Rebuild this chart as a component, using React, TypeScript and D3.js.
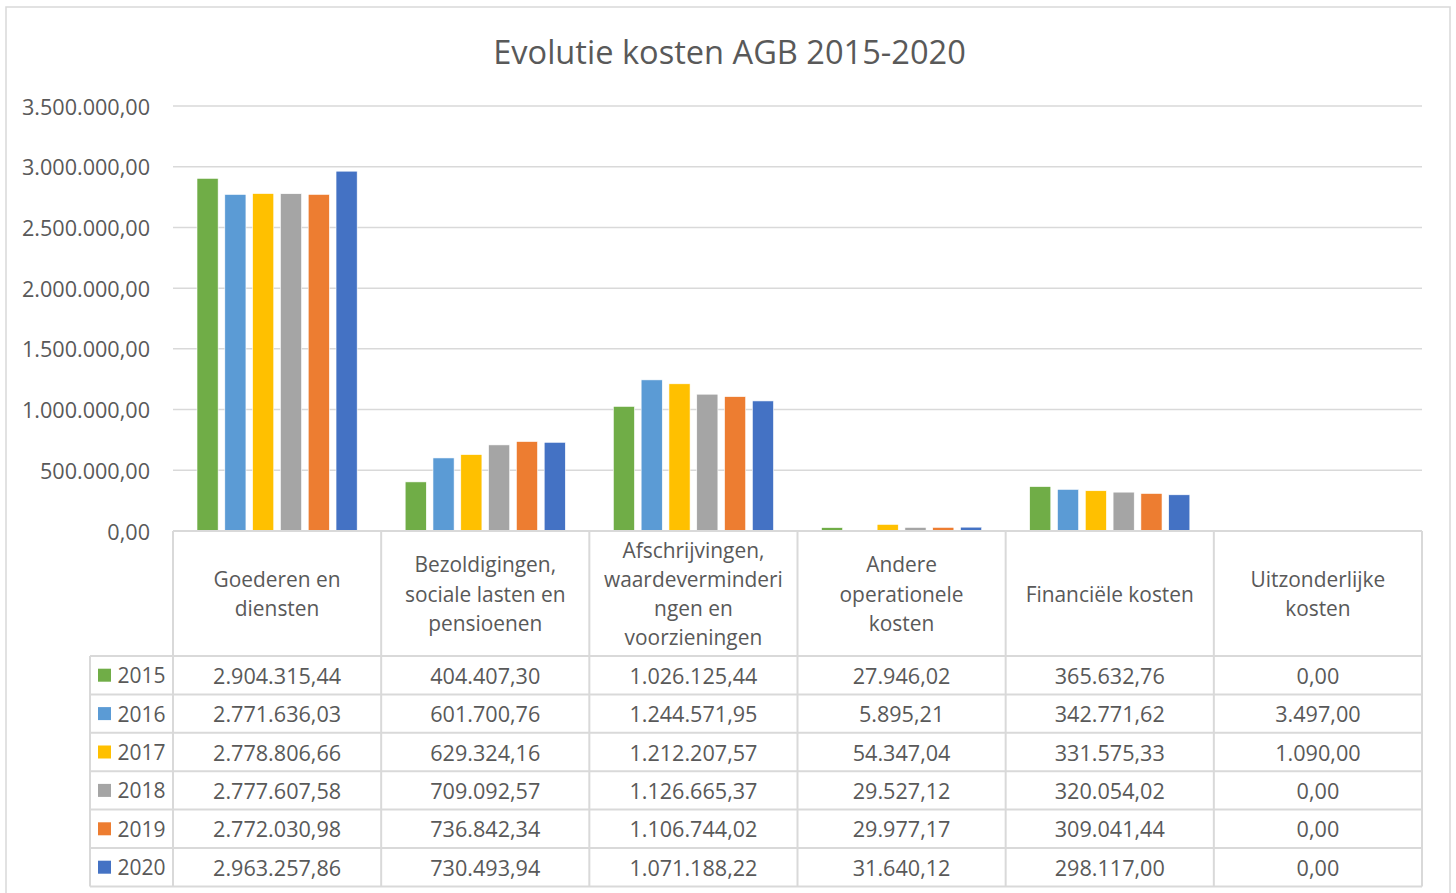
import React from 'react';
import * as d3 from 'd3';

const title = 'Evolutie kosten AGB 2015-2020';
const years = ['2015', '2016', '2017', '2018', '2019', '2020'];
const yearColors = ['#70AD47', '#5B9BD5', '#FFC000', '#A5A5A5', '#ED7D31', '#4472C4'];
const categories: string[][] = [
  ['Goederen en', 'diensten'],
  ['Bezoldigingen,', 'sociale lasten en', 'pensioenen'],
  ['Afschrijvingen,', 'waardeverminderi', 'ngen en', 'voorzieningen'],
  ['Andere', 'operationele', 'kosten'],
  ['Financiële kosten'],
  ['Uitzonderlijke', 'kosten'],
];
const v2015 = [2904315.44, 404407.3, 1026125.44, 27946.02, 365632.76, 0];
const v2016 = [2771636.03, 601700.76, 1244571.95, 5895.21, 342771.62, 3497.0];
const v2017 = [2778806.66, 629324.16, 1212207.57, 54347.04, 331575.33, 1090.0];
const v2018 = [2777607.58, 709092.57, 1126665.37, 29527.12, 320054.02, 0];
const v2019 = [2772030.98, 736842.34, 1106744.02, 29977.17, 309041.44, 0];
const v2020 = [2963257.86, 730493.94, 1071188.22, 31640.12, 298117.0, 0];
const series = [v2015, v2016, v2017, v2018, v2019, v2020];
const yMax = 3500000;
const yStep = 500000;

const W = 1456;
const H = 893;
const FONT = '"Open Sans", sans-serif';
const TXT = '#595959';
const GRID = '#d9d9d9';

const locale = d3.formatLocale({ decimal: ',', thousands: '.', grouping: [3], currency: ['', ''] });
const fmt = locale.format(',.2f');

export default function App() {
  const plotLeft = 173;
  const plotRight = 1422;
  const y = d3.scaleLinear().domain([0, yMax]).range([531, 106]);
  const x = d3.scaleBand<number>().domain(categories.map((_, i) => i)).range([plotLeft, plotRight]).padding(0);
  const cw = x.bandwidth();
  const xi = d3.scaleBand<number>().domain(years.map((_, i) => i)).range([24, cw - 24]).paddingInner(0.24).paddingOuter(0);
  const ticks = d3.range(0, yMax + 1, yStep);

  const headerTop = 531;
  const headerBottom = 656;
  const rowH = 38.4;
  const legendLeft = 90;
  const tableBottom = headerBottom + rowH * years.length;
  const lineH = 29.3;
  const headerMid = (headerTop + headerBottom) / 2;
  const numSize = 21.6;
  const hdrSize = 20.9;

  return (
    <svg width={W} height={H} style={{ position: 'absolute', left: 0, top: 0, background: '#fff' }} fontFamily={FONT}>
      <rect x={0} y={0} width={W} height={H} fill="#fff" />
      <rect x={6} y={7} width={1444} height={H + 10} fill="#fff" stroke={GRID} strokeWidth={1.5} />
      <text x={729.5} y={51} textAnchor="middle" dominantBaseline="central" fontSize={32.6} fill={TXT}>{title}</text>

      {ticks.map((t) => (
        <g key={t}>
          <line x1={plotLeft} x2={plotRight} y1={y(t)} y2={y(t)} stroke={GRID} strokeWidth={1.5} />
          <text x={150} y={y(t)} textAnchor="end" dominantBaseline="central" fontSize={numSize} fill={TXT}>{fmt(t)}</text>
        </g>
      ))}

      {categories.map((_, ci) => (
        <g key={ci} transform={`translate(${x(ci)},0)`}>
          {series.map((vals, si) => (
            vals[ci] > 0 ? (
              <rect key={si} x={xi(si)} y={y(vals[ci])} width={xi.bandwidth()} height={y(0) - y(vals[ci])}
                fill={yearColors[si]} stroke="#fff" strokeWidth={0.6} />
            ) : null
          ))}
        </g>
      ))}

      {/* table lines */}
      <line x1={plotLeft} x2={plotRight} y1={headerTop} y2={headerTop} stroke={GRID} strokeWidth={2} />
      {d3.range(categories.length + 1).map((i) => {
        const xx = plotLeft + i * cw;
        return <line key={'v' + i} x1={xx} x2={xx} y1={headerTop} y2={tableBottom} stroke={GRID} strokeWidth={2} />;
      })}
      <line x1={legendLeft} x2={legendLeft} y1={headerBottom} y2={tableBottom} stroke={GRID} strokeWidth={2} />
      {d3.range(years.length + 1).map((r) => {
        const yy = headerBottom + r * rowH;
        return <line key={'h' + r} x1={legendLeft} x2={plotRight} y1={yy} y2={yy} stroke={GRID} strokeWidth={2} />;
      })}

      {/* header text */}
      {categories.map((lines, ci) => (
        <g key={'hd' + ci}>
          {lines.map((ln, li) => (
            <text key={li} x={(x(ci) as number) + cw / 2} y={headerMid + (li - (lines.length - 1) / 2) * lineH}
              textAnchor="middle" dominantBaseline="central" fontSize={hdrSize} fill={TXT}>{ln}</text>
          ))}
        </g>
      ))}

      {/* rows */}
      {years.map((yr, si) => {
        const cy = headerBottom + si * rowH + rowH / 2;
        return (
          <g key={yr}>
            <rect x={98} y={cy - 6.5} width={13} height={13} fill={yearColors[si]} />
            <text x={117.5} y={cy} dominantBaseline="central" fontSize={21} fill={TXT}>{yr}</text>
            {series[si].map((v, ci) => (
              <text key={ci} x={(x(ci) as number) + cw / 2} y={cy} textAnchor="middle" dominantBaseline="central" fontSize={numSize} fill={TXT}>{fmt(v)}</text>
            ))}
          </g>
        );
      })}
    </svg>
  );
}
